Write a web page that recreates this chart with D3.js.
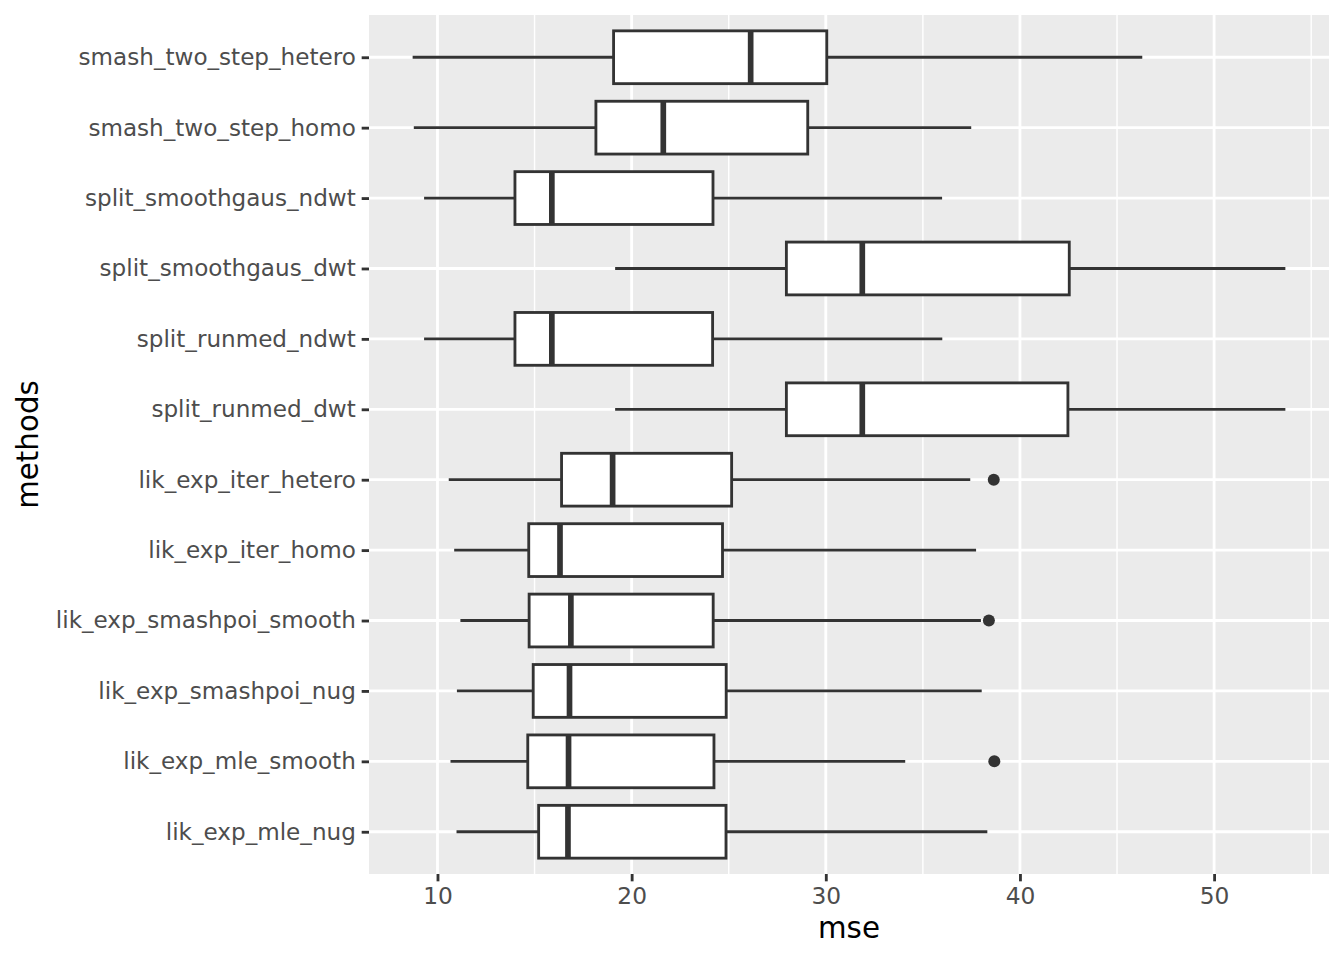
<!DOCTYPE html>
<html>
<head>
<meta charset="utf-8">
<script src="https://cdn.jsdelivr.net/npm/d3@7"></script>
<style>
  html, body { margin: 0; padding: 0; background: #ffffff; }
  svg { display: block; }
  text { font-family: "DejaVu Sans", sans-serif; }
</style>
</head>
<body>
<svg id="chart" width="1344" height="960"></svg>
<script>
// Categories, listed top to bottom as drawn
const methods = [
  "smash_two_step_hetero",
  "smash_two_step_homo",
  "split_smoothgaus_ndwt",
  "split_smoothgaus_dwt",
  "split_runmed_ndwt",
  "split_runmed_dwt",
  "lik_exp_iter_hetero",
  "lik_exp_iter_homo",
  "lik_exp_smashpoi_smooth",
  "lik_exp_smashpoi_nug",
  "lik_exp_mle_smooth",
  "lik_exp_mle_nug"
];
// Box statistics (mse), same order as methods
const whiskerLow  = [8.72, 8.78, 9.31, 19.15, 9.31, 19.15, 10.58, 10.86, 11.18, 11.00, 10.67, 10.98];
const q1          = [19.07, 18.16, 13.99, 27.97, 13.99, 27.97, 16.39, 14.70, 14.72, 14.93, 14.65, 15.21];
const median      = [26.13, 21.63, 15.89, 31.88, 15.89, 31.88, 19.02, 16.31, 16.87, 16.80, 16.75, 16.72];
const q3          = [30.05, 29.07, 24.19, 42.54, 24.17, 42.47, 25.15, 24.68, 24.20, 24.87, 24.24, 24.86];
const whiskerHigh = [46.30, 37.49, 35.99, 53.67, 36.00, 53.67, 37.44, 37.74, 37.99, 38.03, 34.09, 38.32];
// Outliers: [method, value]
const outlierMethod = ["lik_exp_iter_hetero", "lik_exp_smashpoi_smooth", "lik_exp_mle_smooth"];
const outlierValue  = [38.65, 38.40, 38.68];
// Axis ticks
const xMajorTicks = [10, 20, 30, 40, 50];
const xMinorTicks = [15, 25, 35, 45, 55];
const xTitle = "mse";
const yTitle = "methods";

const svg = d3.select("#chart");
const panel = { left: 369, top: 15, right: 1329, bottom: 874 };

const boxes = methods.map((m, i) => ({
  method: m, low: whiskerLow[i], q1: q1[i], med: median[i], q3: q3[i], high: whiskerHigh[i]
}));
const outliers = outlierMethod.map((m, i) => ({ method: m, value: outlierValue[i] }));

const allVals = whiskerLow.concat(whiskerHigh, outlierValue);
const dmin = d3.min(allVals), dmax = d3.max(allVals);
const ex = (dmax - dmin) * 0.05;
const x = d3.scaleLinear().domain([dmin - ex, dmax + ex]).range([panel.left, panel.right]);
const y = d3.scalePoint().domain(methods).range([panel.top, panel.bottom]).padding(0.6);
const step = y.step();
const boxH = step * 0.75;

// panel background
svg.append("rect")
  .attr("x", panel.left).attr("y", panel.top)
  .attr("width", panel.right - panel.left).attr("height", panel.bottom - panel.top)
  .attr("fill", "#ebebeb");

// minor grid
svg.append("g").selectAll("line").data(xMinorTicks.filter(t => x(t) >= panel.left && x(t) <= panel.right))
  .join("line")
  .attr("x1", d => x(d)).attr("x2", d => x(d))
  .attr("y1", panel.top).attr("y2", panel.bottom)
  .attr("stroke", "#ffffff").attr("stroke-width", 1.42);

// major grid
svg.append("g").selectAll("line").data(xMajorTicks)
  .join("line")
  .attr("x1", d => x(d)).attr("x2", d => x(d))
  .attr("y1", panel.top).attr("y2", panel.bottom)
  .attr("stroke", "#ffffff").attr("stroke-width", 2.84);
svg.append("g").selectAll("line").data(methods)
  .join("line")
  .attr("x1", panel.left).attr("x2", panel.right)
  .attr("y1", d => y(d)).attr("y2", d => y(d))
  .attr("stroke", "#ffffff").attr("stroke-width", 2.84);

const dark = "#333333";
const g = svg.append("g");
// whiskers
g.selectAll("line.wl").data(boxes).join("line")
  .attr("x1", d => x(d.low)).attr("x2", d => x(d.q1))
  .attr("y1", d => y(d.method)).attr("y2", d => y(d.method))
  .attr("stroke", dark).attr("stroke-width", 2.84);
g.selectAll("line.wh").data(boxes).join("line")
  .attr("x1", d => x(d.q3)).attr("x2", d => x(d.high))
  .attr("y1", d => y(d.method)).attr("y2", d => y(d.method))
  .attr("stroke", dark).attr("stroke-width", 2.84);
// boxes
g.selectAll("rect.box").data(boxes).join("rect")
  .attr("x", d => x(d.q1)).attr("width", d => x(d.q3) - x(d.q1))
  .attr("y", d => y(d.method) - boxH / 2).attr("height", boxH)
  .attr("fill", "#ffffff").attr("stroke", dark).attr("stroke-width", 2.84);
// medians
g.selectAll("line.med").data(boxes).join("line")
  .attr("x1", d => x(d.med)).attr("x2", d => x(d.med))
  .attr("y1", d => y(d.method) - boxH / 2).attr("y2", d => y(d.method) + boxH / 2)
  .attr("stroke", dark).attr("stroke-width", 5.68);
// outliers
g.selectAll("circle").data(outliers).join("circle")
  .attr("cx", d => x(d.value)).attr("cy", d => y(d.method))
  .attr("r", 6).attr("fill", dark);

// x axis
const xAxis = d3.axisBottom(x).tickValues(xMajorTicks).tickSize(7.33).tickPadding(5.87).tickFormat(d3.format("d"));
const xg = svg.append("g").attr("transform", `translate(0,${panel.bottom})`).call(xAxis);
xg.select(".domain").remove();
xg.selectAll(".tick line").attr("stroke", dark).attr("stroke-width", 2.84);
xg.selectAll(".tick text").attr("fill", "#4d4d4d").attr("font-size", "23.3px")
  .attr("font-family", "DejaVu Sans, sans-serif").attr("dy", "0.72em");

// y axis
const yAxis = d3.axisLeft(y).tickSize(7.33).tickPadding(5.87);
const yg = svg.append("g").attr("transform", `translate(${panel.left},0)`).call(yAxis);
yg.select(".domain").remove();
yg.selectAll(".tick line").attr("stroke", dark).attr("stroke-width", 2.84);
yg.selectAll(".tick text").attr("fill", "#4d4d4d").attr("font-size", "23.1px")
  .attr("font-family", "DejaVu Sans, sans-serif").attr("dy", "0.32em");

// titles
svg.append("text").text(xTitle)
  .attr("x", (panel.left + panel.right) / 2).attr("y", 938)
  .attr("text-anchor", "middle").attr("font-size", "29.33px").attr("fill", "#000000");
svg.append("text").text(yTitle)
  .attr("transform", `translate(38,${(panel.top + panel.bottom) / 2}) rotate(-90)`)
  .attr("text-anchor", "middle").attr("font-size", "29.33px").attr("fill", "#000000");
</script>
</body>
</html>
